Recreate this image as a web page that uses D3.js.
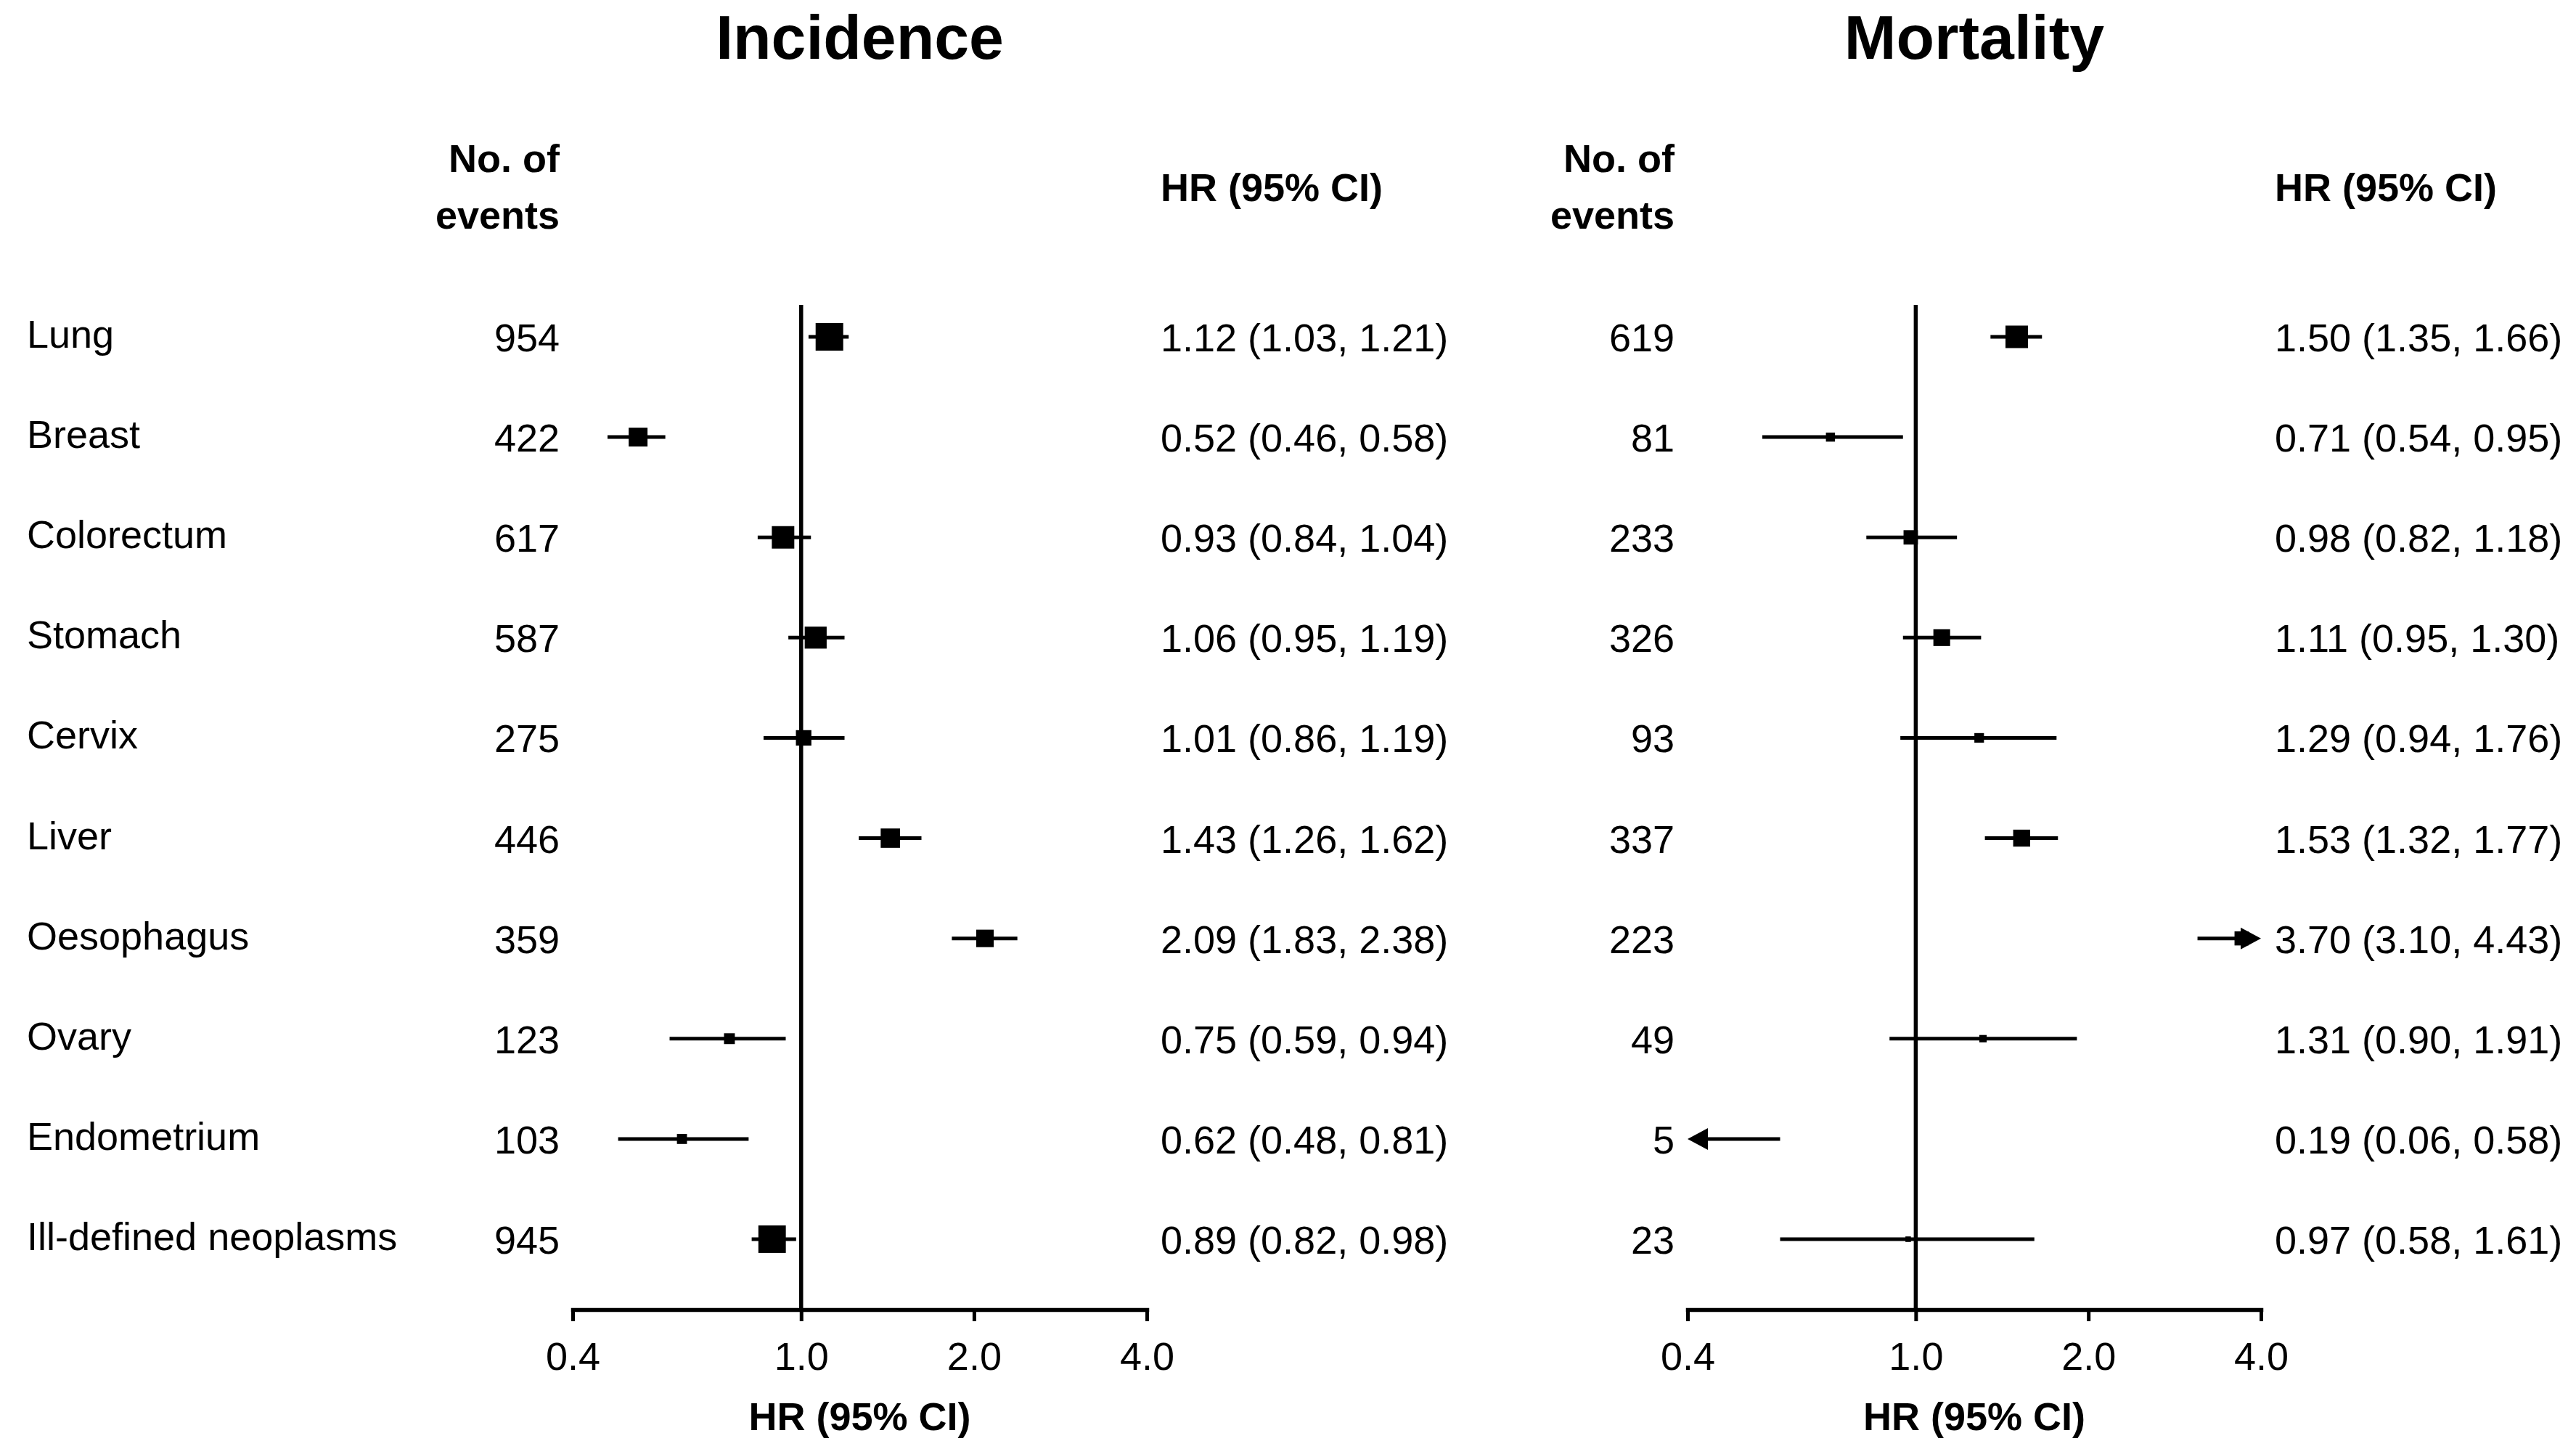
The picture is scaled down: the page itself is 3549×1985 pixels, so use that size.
<!DOCTYPE html>
<html>
<head>
<meta charset="utf-8">
<script src="https://cdn.jsdelivr.net/npm/d3@7"></script>
<style>
  html, body { margin: 0; padding: 0; background: #fff; }
  svg { display: block; font-family: "Liberation Sans", Arial, sans-serif; }
</style>
</head>
<body>
<div id="chart"></div>
<script>
// cancer sites, top to bottom
var sites = ["Lung", "Breast", "Colorectum", "Stomach", "Cervix", "Liver",
  "Oesophagus", "Ovary", "Endometrium", "Ill-defined neoplasms"];

// incidence
var incEvents = [954, 422, 617, 587, 275, 446, 359, 123, 103, 945];
var incHR = [1.12, 0.52, 0.93, 1.06, 1.01, 1.43, 2.09, 0.75, 0.62, 0.89];
var incLo = [1.03, 0.46, 0.84, 0.95, 0.86, 1.26, 1.83, 0.59, 0.48, 0.82];
var incHi = [1.21, 0.58, 1.04, 1.19, 1.19, 1.62, 2.38, 0.94, 0.81, 0.98];

// mortality
var morEvents = [619, 81, 233, 326, 93, 337, 223, 49, 5, 23];
var morHR = [1.50, 0.71, 0.98, 1.11, 1.29, 1.53, 3.70, 1.31, 0.19, 0.97];
var morLo = [1.35, 0.54, 0.82, 0.95, 0.94, 1.32, 3.10, 0.90, 0.06, 0.58];
var morHi = [1.66, 0.95, 1.18, 1.30, 1.76, 1.77, 4.43, 1.91, 0.58, 1.61];

var xTicks = [0.4, 1.0, 2.0, 4.0];

var width = 3549, height = 1985;
var axisY = 1804;
var fontSize = 54;
var f2 = d3.format(".2f");

var svg = d3.select("#chart").append("svg")
  .attr("width", width)
  .attr("height", height);

svg.append("rect").attr("width", width).attr("height", height).attr("fill", "#fff");

var y = d3.scalePoint().domain(sites).range([464, 1707]);

// marker side ~ sqrt(events), same scale for both panels
var size = d3.scaleSqrt()
  .domain([0, d3.max(incEvents.concat(morEvents))])
  .range([0, 36]);

// site names on the far left
svg.append("g").selectAll("text")
  .data(sites)
  .enter().append("text")
  .attr("x", 37)
  .attr("y", d => y(d) + 15)
  .attr("font-size", fontSize)
  .text(d => d);

function drawPanel(p) {
  var x = d3.scaleLog().domain([xTicks[0], xTicks[xTicks.length - 1]]).range([p.x0, p.x1]);
  var lo = x.domain()[0], hi = x.domain()[1];
  var g = svg.append("g");

  g.append("text")
    .attr("x", (p.x0 + p.x1) / 2)
    .attr("y", 81)
    .attr("text-anchor", "middle")
    .attr("font-size", 86)
    .attr("font-weight", "bold")
    .text(p.title);

  // column headers
  g.append("text").attr("x", p.x0 - 18).attr("y", 237)
    .attr("text-anchor", "end").attr("font-size", fontSize).attr("font-weight", "bold")
    .text("No. of");
  g.append("text").attr("x", p.x0 - 18).attr("y", 315)
    .attr("text-anchor", "end").attr("font-size", fontSize).attr("font-weight", "bold")
    .text("events");
  g.append("text").attr("x", p.x1 + 19).attr("y", 277)
    .attr("font-size", fontSize).attr("font-weight", "bold")
    .text("HR (95% CI)");

  // reference line at HR = 1
  g.append("line")
    .attr("x1", x(1)).attr("x2", x(1))
    .attr("y1", 420).attr("y2", axisY)
    .attr("stroke", "#000").attr("stroke-width", 5.5);

  // axis
  var ax = g.append("g")
    .attr("transform", "translate(0," + axisY + ")")
    .call(d3.axisBottom(x).tickValues(xTicks).tickFormat(d3.format(".1f"))
      .tickSizeInner(16).tickSizeOuter(0).tickPadding(29));
  ax.select(".domain").attr("stroke-width", 5.5).attr("stroke-linecap", "square");
  ax.selectAll(".tick line").attr("stroke-width", 5);
  ax.selectAll(".tick text").attr("font-size", fontSize).attr("font-family", "Liberation Sans, Arial, sans-serif");

  g.append("text")
    .attr("x", (p.x0 + p.x1) / 2)
    .attr("y", 1970)
    .attr("text-anchor", "middle")
    .attr("font-size", fontSize)
    .attr("font-weight", "bold")
    .text("HR (95% CI)");

  var rows = sites.map((s, i) => ({
    site: s, n: p.events[i], hr: p.hr[i], lo: p.lo[i], hi: p.hi[i]
  }));

  var row = g.selectAll("g.row").data(rows).enter().append("g").attr("class", "row");

  row.append("text")
    .attr("x", p.x0 - 18)
    .attr("y", d => y(d.site) + 20)
    .attr("text-anchor", "end")
    .attr("font-size", fontSize)
    .text(d => d.n);

  row.append("text")
    .attr("x", p.x1 + 19)
    .attr("y", d => y(d.site) + 20)
    .attr("font-size", fontSize)
    .text(d => f2(d.hr) + " (" + f2(d.lo) + ", " + f2(d.hi) + ")");

  // CI lines, clipped to the axis range
  row.append("line")
    .attr("x1", d => x(Math.max(d.lo, lo)) + (d.lo < lo ? 20 : 0))
    .attr("x2", d => x(Math.min(d.hi, hi)) - (d.hi > hi ? 20 : 0))
    .attr("y1", d => y(d.site))
    .attr("y2", d => y(d.site))
    .attr("stroke", "#000")
    .attr("stroke-width", 5);

  // squares
  row.filter(d => d.hr >= lo && d.hr <= hi)
    .append("rect")
    .attr("x", d => x(d.hr) - size(d.n) / 2)
    .attr("y", d => y(d.site) - size(d.n) / 2)
    .attr("width", d => size(d.n))
    .attr("height", d => size(d.n))
    .attr("fill", "#000")
    .attr("stroke", "#000")
    .attr("stroke-width", 2);

  // arrows where the CI runs off the axis
  row.filter(d => d.hi > hi).append("path")
    .attr("d", d => {
      var t = x(hi), c = y(d.site);
      return "M" + t + "," + c + "L" + (t - 28) + "," + (c - 15) + "L" + (t - 28) + "," + (c + 15) + "Z";
    })
    .attr("fill", "#000");
  row.filter(d => d.lo < lo).append("path")
    .attr("d", d => {
      var t = x(lo), c = y(d.site);
      return "M" + t + "," + c + "L" + (t + 28) + "," + (c - 15) + "L" + (t + 28) + "," + (c + 15) + "Z";
    })
    .attr("fill", "#000");
}

drawPanel({ title: "Incidence", events: incEvents, hr: incHR, lo: incLo, hi: incHi, x0: 789, x1: 1580 });
drawPanel({ title: "Mortality", events: morEvents, hr: morHR, lo: morLo, hi: morHi, x0: 2325, x1: 3115 });
</script>
</body>
</html>
